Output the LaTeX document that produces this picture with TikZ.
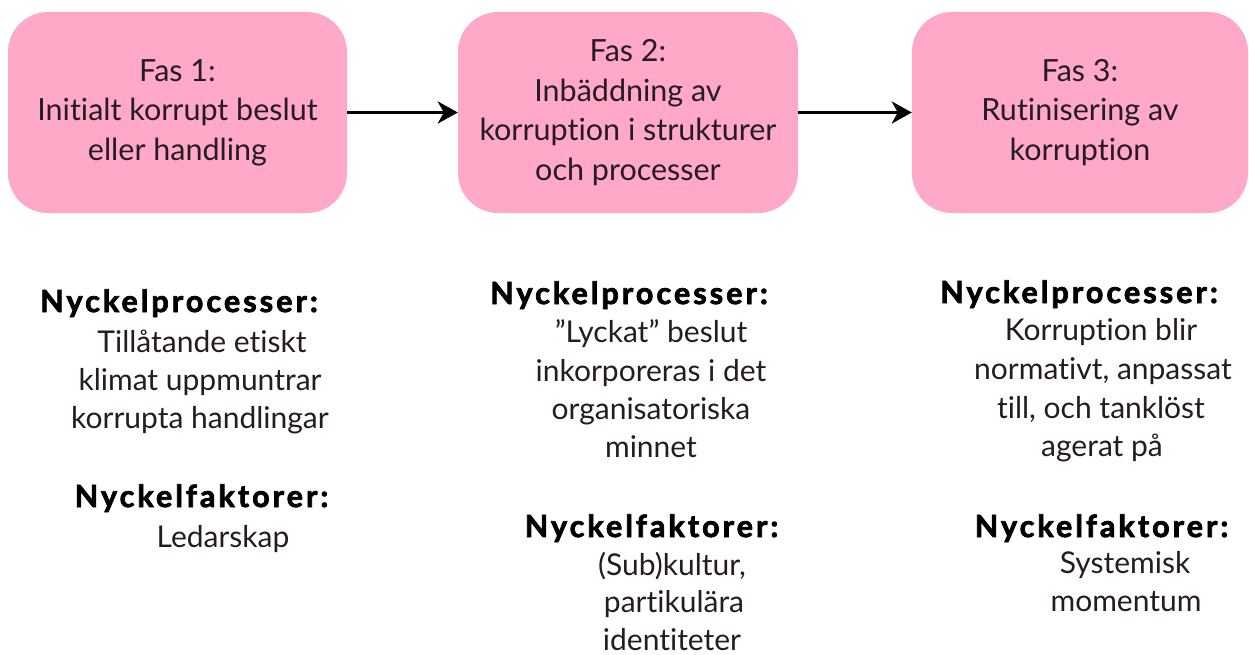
\documentclass[tikz,border=0pt]{standalone}
\usepackage{fontspec}
\setmainfont{Lato}[Ligatures={NoCommon}]
\newfontfamily\heavyfont{Lato}[FakeBold=2.5, LetterSpace=10, Ligatures={NoCommon}]
\usetikzlibrary{arrows.meta}
\definecolor{phasepink}{RGB}{255,168,200}
\definecolor{boxtext}{RGB}{38,28,32}
\begin{document}
\begin{tikzpicture}[x=1pt,y=-1pt,
  phasebox/.style={fill=phasepink, rounded corners=40pt, minimum height=201pt,
    align=center, text=boxtext, inner sep=0pt,
    font=\fontsize{30.5}{39.5}\selectfont},
  headtext/.style={anchor=base, inner sep=0pt, font=\heavyfont\bfseries\fontsize{30.5}{34}\selectfont},
  bodytext/.style={anchor=base, inner sep=0pt, text=boxtext, font=\fontsize{30}{34}\selectfont},
  flowarrow/.style={line width=3.4pt, -{Stealth[length=20pt,width=22pt,inset=6pt]}}
  ]
\useasboundingbox (0,0) rectangle (1249,655);

\node[phasebox, minimum width=339pt] (b1) at (177.5,112.5) {Fas 1:\\Initialt korrupt beslut\\eller handling};
\node[phasebox, minimum width=340pt] (b2) at (628,112.5) {Fas 2:\\Inbäddning av\\korruption i strukturer\\och processer};
\node[phasebox, minimum width=336pt] (b3) at (1080,112.5) {Fas 3:\\Rutinisering av\\korruption};

\draw[flowarrow] (b1.east) -- (b2.west);
\draw[flowarrow] (b2.east) -- (b3.west);

% column 1
\node[headtext] (h1p) at (179,312) {Nyckelprocesser:};
\node[bodytext] (c1a) at (202,352) {Tillåtande etiskt};
\node[bodytext] (c1b) at (200,390) {klimat uppmuntrar};
\node[bodytext] (c1c) at (200,428) {korrupta handlingar};
\node[headtext] (h1f) at (201.5,507) {Nyckelfaktorer:};
\node[bodytext] (c1d) at (223,547) {Ledarskap};

% column 2
\node[headtext] (h2p) at (629,304) {Nyckelprocesser:};
\node[bodytext] (c2a) at (651,342) {”Lyckat” beslut};
\node[bodytext] (c2b) at (651,381) {inkorporeras i det};
\node[bodytext] (c2c) at (651,419) {organisatoriska};
\node[bodytext] (c2d) at (651,457) {minnet};
\node[headtext] (h2f) at (651.5,537) {Nyckelfaktorer:};
\node[bodytext] (c2e) at (672,575) {(Sub)kultur,};
\node[bodytext] (c2f) at (674,612) {partikulära};
\node[bodytext] (c2g) at (672,650) {identiteter};

% column 3
\node[headtext] (h3p) at (1079,303) {Nyckelprocesser:};
\node[bodytext] (c3a) at (1101,340) {Korruption blir};
\node[bodytext] (c3b) at (1103,379) {normativt, anpassat};
\node[bodytext] (c3c) at (1101,418) {till, och tanklöst};
\node[bodytext] (c3d) at (1102,456) {agerat på};
\node[headtext] (h3f) at (1101.5,537) {Nyckelfaktorer:};
\node[bodytext] (c3e) at (1125,573) {Systemisk};
\node[bodytext] (c3f) at (1126,611) {momentum};
\end{tikzpicture}
\end{document}
